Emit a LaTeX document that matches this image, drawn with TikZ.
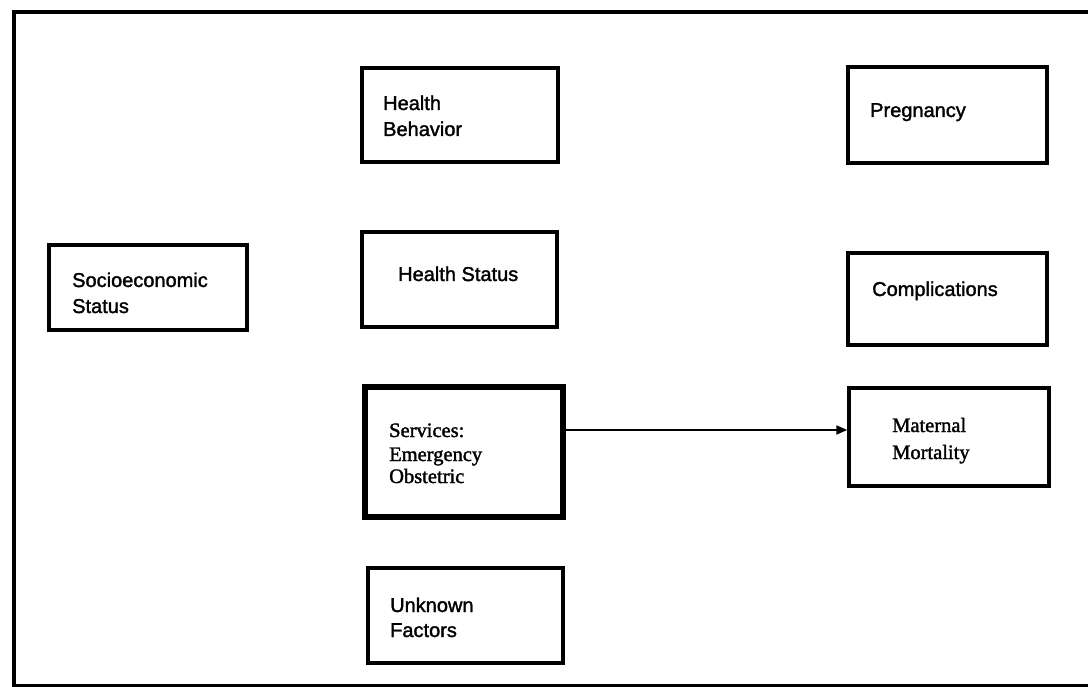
\documentclass[tikz,border=0pt]{standalone}
\usepackage{fontspec}
\setmainfont{Liberation Serif}[RawFeature={embolden=1.6}]
\setsansfont{Liberation Sans}[RawFeature={embolden=1.6}]
\usetikzlibrary{arrows.meta}

\tikzset{
  box/.style={draw=black, line width=3.5pt, rectangle, inner sep=0pt, fill=white},
  heavybox/.style={box, line width=5.5pt},
  sanslabel/.style={anchor=base west, inner sep=0pt, font=\sffamily\fontsize{20}{26}\selectfont},
  seriflabel/.style={anchor=base west, inner sep=0pt, font=\rmfamily\fontsize{20.5}{26}\selectfont},
  link/.style={line width=2pt, -{Triangle[length=11pt, width=9pt]}}
}

\begin{document}
\begin{tikzpicture}[x=1pt, y=-1pt]
  \useasboundingbox (0,0) rectangle (1088,687);
  \clip (0,0) rectangle (1088,687);
  \fill[white] (0,0) rectangle (1088,687);

  % outer frame, open on the right
  \draw[line width=4.5pt] (1100,12) -- (14,12) -- (14,686) -- (1100,686);

  % boxes
  \node[box, minimum width=196pt, minimum height=94pt]  (hb)   at (460,115)   {};
  \node[box, minimum width=199pt, minimum height=96pt]  (preg) at (947.5,115) {};
  \node[box, minimum width=198pt, minimum height=85pt]  (ses)  at (148,287.5) {};
  \node[box, minimum width=195pt, minimum height=95pt]  (hs)   at (459.5,279.5) {};
  \node[box, minimum width=199pt, minimum height=92pt]  (comp) at (947.5,299) {};
  \node[heavybox, minimum width=198pt, minimum height=130pt] (svc) at (464,452) {};
  \node[box, minimum width=200pt, minimum height=98pt]  (mm)   at (949,437)   {};
  \node[box, minimum width=195pt, minimum height=95pt]  (uf)   at (465.5,615.5) {};

  % labels (base anchor sits on the last line)
  \node[sanslabel, align=left] (hbt) at (383,136) {Health\\Behavior};
  \node[sanslabel] (pregt) at (870,117) {Pregnancy};
  \node[sanslabel, align=left] (sest) at (72,313) {Socioeconomic\\Status};
  \node[sanslabel] (hst) at (398,281) {Health Status};
  \node[sanslabel] (compt) at (872,296) {Complications};
  \node[seriflabel, align=left] (svct) at (389,483) {Services:\\[-2pt]Emergency\\[-4pt]Obstetric};
  \node[seriflabel, align=left] (mmt) at (892,459) {Maternal\\[1pt]Mortality};
  \node[sanslabel, align=left] (uft) at (390,637) {Unknown\\[-1pt]Factors};

  % connector
  \draw[link] ([yshift=22pt]svc.east) -- ([yshift=7pt]mm.west);
\end{tikzpicture}
\end{document}
